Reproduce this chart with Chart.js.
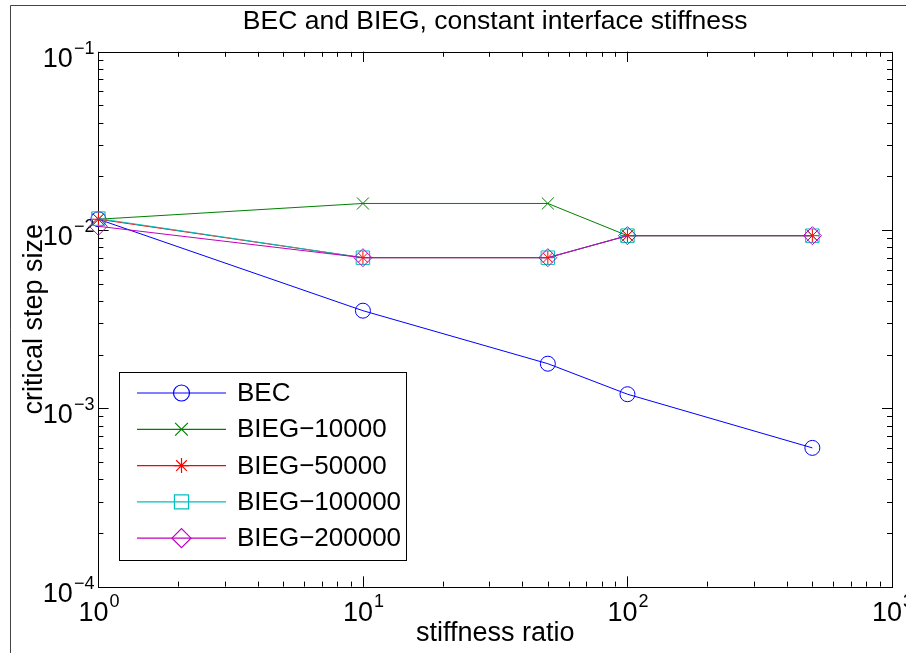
<!DOCTYPE html>
<html>
<head>
<meta charset="utf-8">
<script src="https://cdn.jsdelivr.net/npm/chart.js@4.4.1/dist/chart.umd.min.js"></script>
<style>
  html, body { margin: 0; padding: 0; background: #fff; }
  #wrap { width: 906px; height: 653px; }
</style>
</head>
<body>
<div id="wrap"><canvas id="chart" width="906" height="653"></canvas></div>
<script>
// stiffness ratios (x) and critical step sizes (y)
const stiffnessRatio = [1, 10, 50, 100, 500];
const bec = [0.0115, 0.00353, 0.00178, 0.0012, 0.0006];
const bieg10000 = [0.0115, 0.0141, 0.0141, 0.0093, 0.0093];
const bieg50000 = [0.0115, 0.0070, 0.0070, 0.0093, 0.0093];
const bieg100000 = [0.0116, 0.0070, 0.0070, 0.0093, 0.0093];
const bieg200000 = [0.0105, 0.0070, 0.0070, 0.0093, 0.0093];

const xMajorTicks = [1, 10, 100, 1000];
const xTickExp = ["0", "1", "2", "3"];
const yMajorTicks = [1e-4, 1e-3, 1e-2, 1e-1];
const yTickExp = ["\u22124", "\u22123", "\u22122", "\u22121"];

const FONT = "'Liberation Sans', Arial, Helvetica, sans-serif";

function series(label, values, color, style, radius, order) {
  return {
    label: label,
    data: values.map((v, i) => ({ x: stiffnessRatio[i], y: v })),
    borderColor: color,
    backgroundColor: color,
    borderWidth: 1,
    pointStyle: style,
    pointRadius: radius,
    pointHoverRadius: radius,
    pointBorderColor: color,
    pointBackgroundColor: "rgba(0,0,0,0)",
    pointBorderWidth: 1,
    tension: 0,
    clip: false,
    order: order,
  };
}

const datasets = [
  series("BEC", bec, "#0000ff", "circle", 7.5, 5),
  series("BIEG\u221210000", bieg10000, "#008000", "crossRot", 8.5, 4),
  series("BIEG\u221250000", bieg50000, "#ff0000", "star", 7, 3),
  series("BIEG\u2212100000", bieg100000, "#00bfbf", "rect", 9.5, 2),
  series("BIEG\u2212200000", bieg200000, "#bf00bf", "rectRot", 9, 1),
];

// axis box, inside ticks (MATLAB style) and tick labels with exponents
const matlabAxes = {
  id: "matlabAxes",
  beforeDraw(chart) {
    const ctx = chart.ctx;
    ctx.save();
    ctx.fillStyle = "#fff";
    ctx.fillRect(0, 0, chart.width, chart.height);
    // figure frame
    ctx.strokeStyle = "#444";
    ctx.lineWidth = 1;
    ctx.beginPath();
    ctx.moveTo(10.5, 653);
    ctx.lineTo(10.5, 5.5);
    ctx.lineTo(906, 5.5);
    ctx.stroke();
    ctx.restore();
  },
  beforeDatasetsDraw(chart) {
    const ctx = chart.ctx;
    const a = chart.chartArea;
    const xs = chart.scales.x;
    const ys = chart.scales.y;
    ctx.save();
    ctx.strokeStyle = "#000";
    ctx.lineWidth = 1;
    ctx.beginPath();
    // ticks on x axis, bottom and top
    for (let d = 0; d < 3; d++) {
      for (let m = 1; m <= 10; m++) {
        const v = Math.pow(10, d) * m;
        const px = Math.round(xs.getPixelForValue(v)) + 0.5;
        const len = (m === 1 || m === 10) ? 10 : 5;
        ctx.moveTo(px, a.bottom);
        ctx.lineTo(px, a.bottom - len);
        ctx.moveTo(px, a.top);
        ctx.lineTo(px, a.top + len);
      }
    }
    // ticks on y axis, left and right
    for (let d = -4; d < -1; d++) {
      for (let m = 1; m <= 10; m++) {
        const v = Math.pow(10, d) * m;
        const py = Math.round(ys.getPixelForValue(v)) + 0.5;
        const len = (m === 1 || m === 10) ? 10 : 5;
        ctx.moveTo(a.left, py);
        ctx.lineTo(a.left + len, py);
        ctx.moveTo(a.right, py);
        ctx.lineTo(a.right - len, py);
      }
    }
    ctx.stroke();
    ctx.strokeRect(Math.round(a.left) + 0.5, Math.round(a.top) + 0.5,
      Math.round(a.right - a.left), Math.round(a.bottom - a.top));

    ctx.fillStyle = "#000";
    ctx.textBaseline = "alphabetic";
    const base = "27px " + FONT;
    const sup = "18px " + FONT;
    // x tick labels
    xMajorTicks.forEach((v, i) => {
      const px = xs.getPixelForValue(v);
      ctx.font = base;
      const w1 = ctx.measureText("10").width;
      ctx.font = sup;
      const w2 = ctx.measureText(xTickExp[i]).width;
      const x0 = px - (w1 + w2) / 2;
      ctx.font = base;
      ctx.textAlign = "left";
      ctx.fillText("10", x0, a.bottom + 34);
      ctx.font = sup;
      ctx.fillText(xTickExp[i], x0 + w1 + 1, a.bottom + 20);
    });
    // y tick labels
    yMajorTicks.forEach((v, i) => {
      const py = ys.getPixelForValue(v);
      ctx.font = sup;
      const w2 = ctx.measureText(yTickExp[i]).width;
      ctx.font = base;
      const w1 = ctx.measureText("10").width;
      const xr = a.left - 4;
      ctx.textAlign = "left";
      ctx.fillText("10", xr - w2 - w1 - 1, py + 15);
      ctx.font = sup;
      ctx.fillText(yTickExp[i], xr - w2, py + 2);
    });
    ctx.restore();
  },
  afterDraw(chart) {
    // legend box in the lower left of the plot
    const ctx = chart.ctx;
    ctx.save();
    const bx = 119, by = 372, bw = 287, bh = 188;
    ctx.fillStyle = "#fff";
    ctx.fillRect(bx, by, bw, bh);
    ctx.strokeStyle = "#000";
    ctx.lineWidth = 1;
    ctx.strokeRect(bx + 0.5, by + 0.5, bw, bh);
    ctx.font = "26px " + FONT;
    ctx.textBaseline = "middle";
    ctx.textAlign = "left";
    datasets.forEach((ds, i) => {
      const y = by + 21 + i * 36.3;
      ctx.strokeStyle = ds.borderColor;
      ctx.lineWidth = 1.2;
      ctx.beginPath();
      ctx.moveTo(137, y);
      ctx.lineTo(226, y);
      ctx.stroke();
      ctx.fillStyle = "rgba(0,0,0,0)";
      Chart.helpers.drawPoint(ctx, {
        pointStyle: ds.pointStyle,
        radius: ds.pointRadius + 0.5,
        rotation: 0,
        borderWidth: 1.2,
      }, 181.5, y);
      ctx.fillStyle = "#000";
      ctx.fillText(ds.label, 237, y + 1);
    });
    ctx.restore();
  },
};

const ctx = document.getElementById("chart").getContext("2d");
new Chart(ctx, {
  type: "line",
  data: { datasets: datasets },
  options: {
    responsive: false,
    animation: false,
    events: [],
    layout: {
      padding: { left: 14, right: 14, top: 0, bottom: 0 },
    },
    plugins: {
      legend: { display: false },
      tooltip: { enabled: false },
      title: {
        display: true,
        fullSize: false,
        text: "BEC and BIEG, constant interface stiffness",
        color: "#000",
        font: { family: FONT, size: 26.5, weight: "normal" },
        padding: { top: 6, bottom: 14 },
      },
    },
    scales: {
      x: {
        type: "logarithmic",
        min: 1,
        max: 1000,
        ticks: { display: false },
        grid: { display: false, drawTicks: false },
        border: { display: false },
        title: {
          display: true,
          text: "stiffness ratio",
          color: "#000",
          font: { family: FONT, size: 27 },
          padding: { top: 31, bottom: 3 },
        },
      },
      y: {
        type: "logarithmic",
        min: 0.0001,
        max: 0.1,
        ticks: { display: false },
        grid: { display: false, drawTicks: false },
        border: { display: false },
        title: {
          display: true,
          text: "critical step size",
          color: "#000",
          font: { family: FONT, size: 27 },
          padding: { top: 4, bottom: 48 },
        },
      },
    },
  },
  plugins: [matlabAxes],
});
</script>
</body>
</html>
